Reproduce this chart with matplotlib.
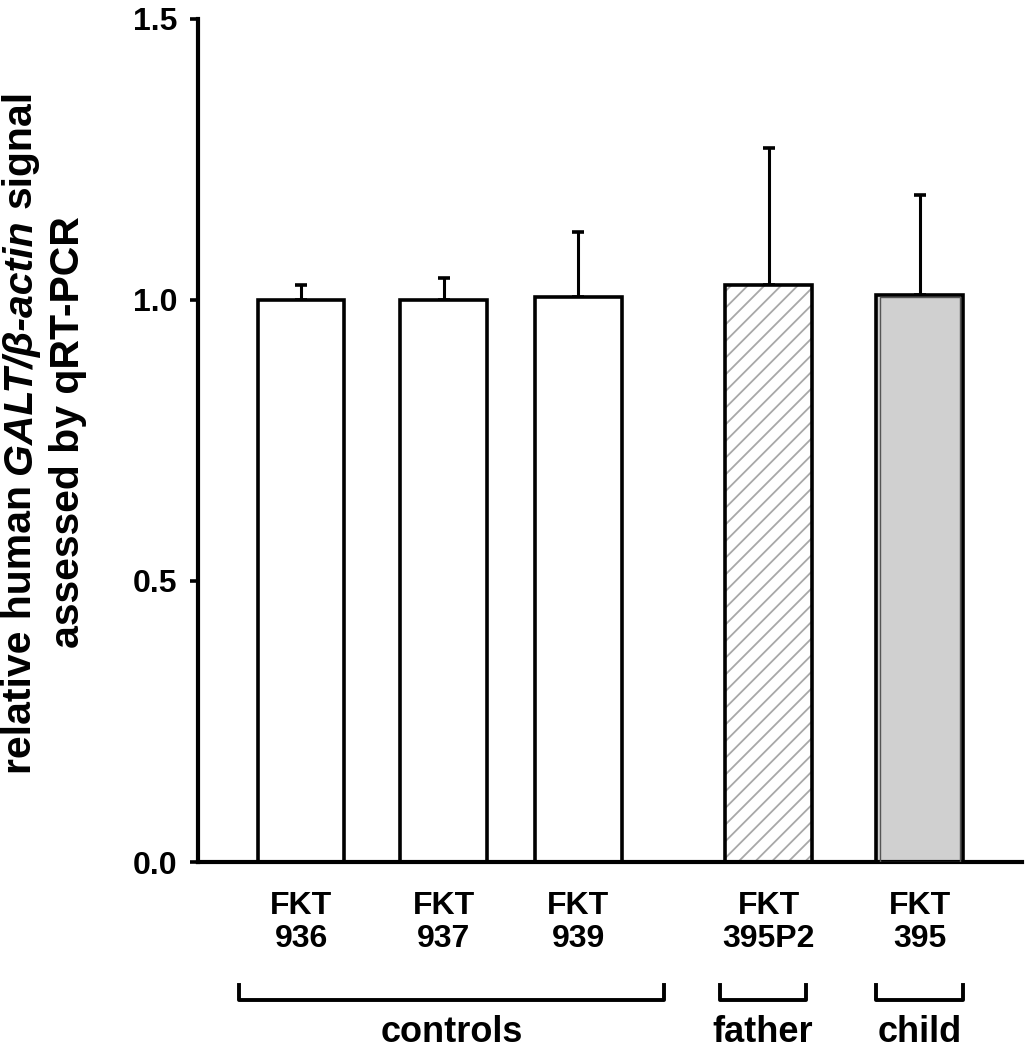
import matplotlib
matplotlib.use("Agg")
import matplotlib.pyplot as plt
from matplotlib.transforms import blended_transform_factory

plt.rcParams['font.family'] = ['Liberation Sans', 'DejaVu Sans']
plt.rcParams['font.weight'] = 'bold'
plt.rcParams['hatch.linewidth'] = 1.3

categories = ["FKT\n936", "FKT\n937", "FKT\n939", "FKT\n395P2", "FKT\n395"]
values = [1.000, 1.000, 1.005, 1.027, 1.009]
errors = [0.027, 0.039, 0.116, 0.243, 0.178]
groups = ["controls", "father", "child"]
yticks = [0.0, 0.5, 1.0, 1.5]
ylabel_line1 = [("relative human ", "normal"), ("GALT/β-actin", "italic"), (" signal", "normal")]
ylabel_line2 = "assessed by qRT-PCR"

# layout
xpos = [0.0, 1.02, 1.98, 3.34, 4.42]
bracket_spans = [(-0.44, 2.59), (2.99, 3.61), (4.11, 4.73)]
fills = ['white', 'white', 'white', 'white', '#d0d0d0']
hatches = [None, None, None, '//', None]
W = 0.62
FW, FH = 1026, 1050

fig = plt.figure(figsize=(FW / 100, FH / 100), dpi=100)
ax = fig.add_axes([0.193, 0.179, 0.803, 0.803])

for i, (x, v, e, fc, h) in enumerate(zip(xpos, values, errors, fills, hatches)):
    if h:
        ax.bar(x, v, width=W, color=fc, edgecolor='#a8a8a8', linewidth=0,
               hatch=h, zorder=2)
        ax.bar(x, v, width=W, fill=False, edgecolor='black', linewidth=2.6, zorder=3)
    else:
        ax.bar(x, v, width=W, color=fc, edgecolor='black', linewidth=2.6, zorder=2)
    if i == 4:
        ax.bar(x, v - 0.004, width=W - 0.05, fill=False, edgecolor='#555555',
               linewidth=1.0, zorder=3)
    ax.errorbar(x, v, yerr=[[0], [e]], fmt='none', ecolor='black',
                elinewidth=2.2, capsize=4.5, capthick=2.6, zorder=1)

ax.set_xlim(-0.736, 5.15)
ax.set_ylim(0, 1.5)
ax.set_yticks(yticks)
ax.set_yticklabels([f"{t:.1f}" for t in yticks])
ax.tick_params(axis='y', direction='out', length=6, width=2.6, labelsize=23, pad=9)
ax.set_xticks(xpos)
ax.set_xticklabels(categories, fontsize=23, linespacing=1.1)
ax.tick_params(axis='x', length=0, pad=21)
for s in ['top', 'right']:
    ax.spines[s].set_visible(False)
for s in ['left', 'bottom']:
    ax.spines[s].set_linewidth(3.0)

trans = blended_transform_factory(ax.transData, ax.transAxes)
for (a, b), g in zip(bracket_spans, groups):
    ax.plot([a, a, b, b], [-0.146, -0.164, -0.164, -0.146], color='black',
            lw=2.8, transform=trans, clip_on=False, solid_joinstyle='round')
    ax.text((a + b) / 2, -0.214, g, transform=trans, ha='center', va='baseline',
            fontsize=26)

# y label built from pieces (mixed upright / italic)
FS = 29.5
renderer = fig.canvas.get_renderer()


def text_width(s, style):
    t = fig.text(0, 0, s, fontsize=FS, style=style)
    w = t.get_window_extent(renderer).width
    t.remove()
    return w


space_w = text_width("a a", "normal") - text_width("aa", "normal")
widths = []
for s, st in ylabel_line1:
    w = text_width(s.strip(), st)
    w += space_w * (len(s) - len(s.lstrip())) + space_w * (len(s) - len(s.rstrip()))
    widths.append(w)
total = sum(widths)
center_py = 432
start_py = center_py + total / 2
base1_px, base2_px = 31, 79
pos = start_py
for (s, st), w in zip(ylabel_line1, widths):
    lead = space_w * (len(s) - len(s.lstrip()))
    fig.text(base1_px / FW, (FH - (pos - lead)) / FH, s.strip(), fontsize=FS, style=st,
             rotation=90, rotation_mode='anchor', ha='left', va='baseline')
    pos -= w
fig.text(base2_px / FW, (FH - center_py) / FH, ylabel_line2, fontsize=FS,
         rotation=90, rotation_mode='anchor', ha='center', va='baseline')

fig.savefig("out.png", dpi=100)
